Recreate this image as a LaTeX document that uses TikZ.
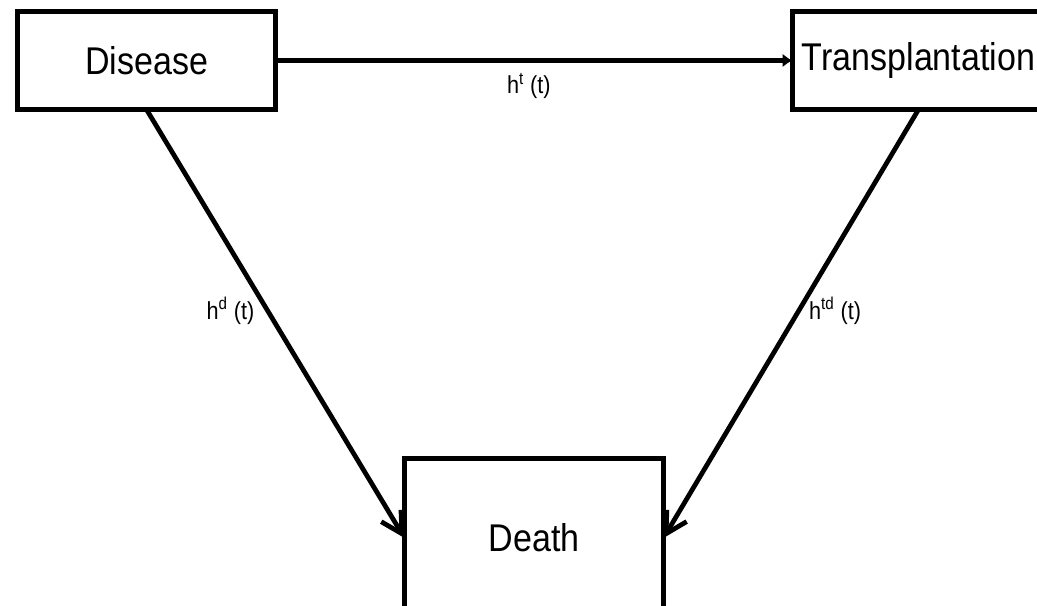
\documentclass[tikz,border=0pt]{standalone}
\usepackage{fontspec}
\setmainfont[FakeStretch=0.88]{Liberation Sans}
\usetikzlibrary{arrows.meta}

\begin{document}
\begin{tikzpicture}[
		state/.style={draw, line width=0.1cm, inner sep=0pt, outer sep=0pt, minimum height=1.96cm, font=\fontsize{22}{26}\selectfont},
		link/.style={line width=0.095cm},
		rate/.style={inner sep=0pt, font=\fontsize{14}{16}\selectfont}
	]
		%%%%% START %%%%%
		
		\useasboundingbox (0, 0) rectangle (20.74, 12.12);
		
		\node[state, minimum width=5.16cm] (disease) at (2.93, 10.91) {Disease};
		\node[state, minimum width=5.04cm] (transplant) at (18.37, 10.91) {Transplantation};
		\node[state, minimum width=5.18cm, minimum height=3.18cm] (death) at (10.68, 1.36) {Death};
		
		\draw[link, -{Latex[length=0.2cm, width=0.28cm]}] (disease.east) -- (transplant.west)
			node[rate, pos=0.49, below=0.21cm] (ht) {h\textsuperscript{t} (t)};
		
		\draw[link, -{Straight Barb[length=0.42cm, width=0.46cm]}] (disease.south) -- (death.west)
			node[rate, pos=0.47, left=0.22cm] (hd) {h\textsuperscript{d} (t)};
		\draw[link, -{Straight Barb[length=0.42cm, width=0.46cm]}] (transplant.south) -- (death.east)
			node[rate, pos=0.47, right=0.16cm] (htd) {h\textsuperscript{td} (t)};
		
		%%%%% END %%%%%
	\end{tikzpicture}
\end{document}
